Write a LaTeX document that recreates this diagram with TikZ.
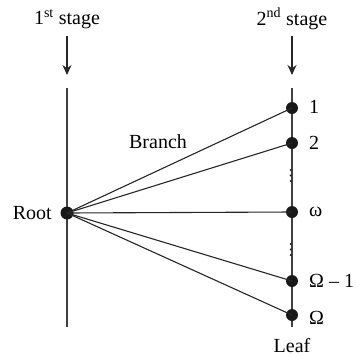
\documentclass[tikz,border=0pt]{standalone}
\usepackage{fontspec}
\setmainfont{Liberation Serif}
\usetikzlibrary{arrows.meta}
\begin{document}
\begin{tikzpicture}[x=1pt,y=1pt,
  txt/.style={font=\fontsize{20}{24}\selectfont, inner sep=0pt},
  dot/.style={circle, fill=black!90, inner sep=0pt, minimum size=12pt},
  rdot/.style={circle, fill=black!90, inner sep=0pt, minimum size=13pt},
  ln/.style={line width=1.2pt, black!75},
  br/.style={line width=1.1pt, black!85},
  arr/.style={line width=1.1pt, black!85, -{Stealth[length=10pt,width=9pt]}}]
\useasboundingbox (0,0) rectangle (356,-357);
% stage labels
\node[txt] (s1) at (67,-19) {1\textsuperscript{st} stage};
\node[txt] (s2) at (292,-19) {2\textsuperscript{nd} stage};
\coordinate (a1s) at (67,-36);
\coordinate (a1e) at (67,-75);
\coordinate (a2s) at (292,-36);
\coordinate (a2e) at (292,-75);
\draw[arr] (a1s) -- (a1e);
\draw[arr] (a2s) -- (a2e);
% vertical lines
\coordinate (l1t) at (67,-88);
\coordinate (l1b) at (67,-327);
\coordinate (l2t) at (292,-88);
\coordinate (l2b) at (292,-327);
\draw[ln] (l1t) -- (l1b);
\draw[ln] (l2t) -- (l2b);
% nodes
\node[rdot] (root) at (67,-213) {};
\node[dot] (n1) at (292,-108) {};
\node[dot] (n2) at (292,-143) {};
\node[dot] (nw) at (292,-212) {};
\node[dot] (nO1) at (292,-281) {};
\node[dot] (nO) at (292,-315) {};
% branches
\foreach \n in {n1,n2,nw,nO1,nO} \draw[br] (root.center) -- (\n.center);
% ellipsis dots
\foreach \y in {-170,-175.5,-181,-244,-249.5,-255} \fill[black!85] (290.8,\y) circle (1.2pt);
% labels
\node[txt, anchor=east] (rootl) at (52,-213) {Root};
\node[txt] (brl) at (158,-142) {Branch};
\node[txt, anchor=west] at (309,-107) (l1) {1};
\node[txt, anchor=west] at (309,-143) (l2) {2};
\node[txt, anchor=west] at (309,-212) (lw) {ω};
\node[txt, anchor=west] at (309,-281) (lO1) {Ω – 1};
\node[txt, anchor=west] at (309,-318) (lO) {Ω};
\node[txt] (leaf) at (292,-346) {Leaf};
\end{tikzpicture}
\end{document}
